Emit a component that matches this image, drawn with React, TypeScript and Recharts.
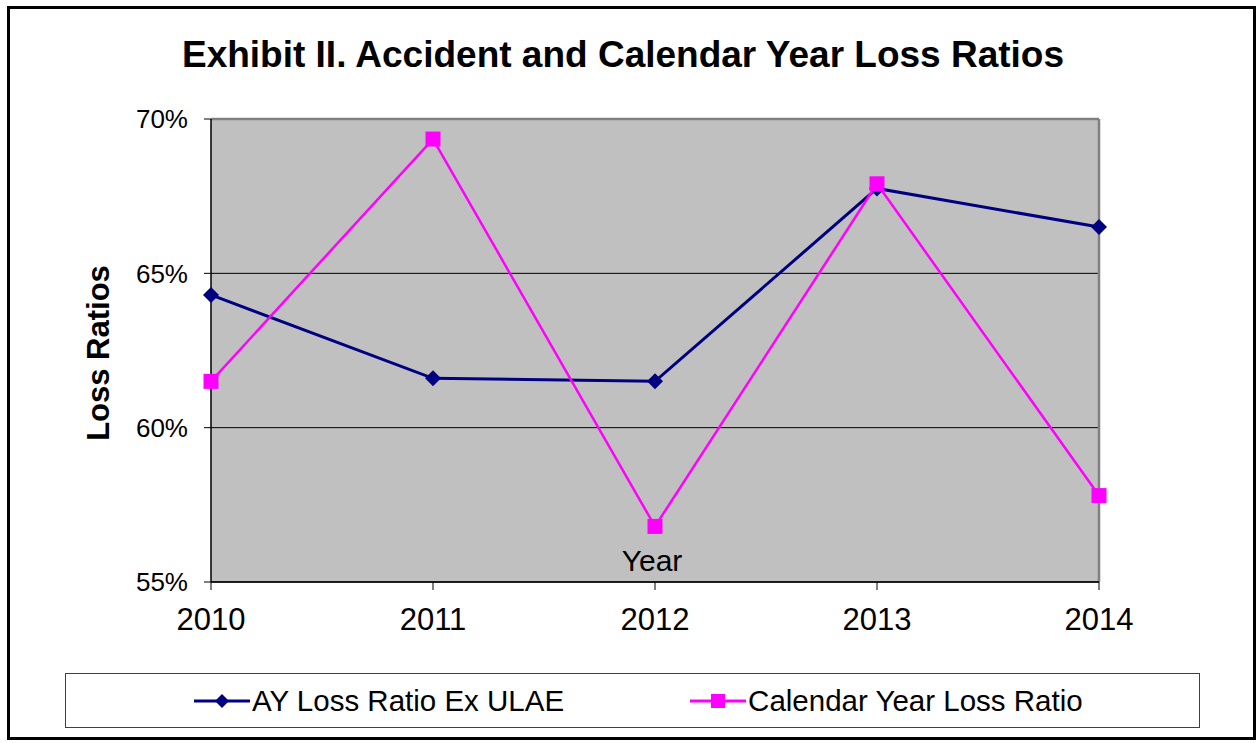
import React from 'react';
import { LineChart, Line, XAxis, YAxis, CartesianGrid, Legend, ReferenceLine, Label } from 'recharts';

const years = ['2010', '2011', '2012', '2013', '2014'];
const ayLossRatio = [64.3, 61.6, 61.5, 67.75, 66.5];
const cyLossRatio = [61.5, 69.35, 56.8, 67.9, 57.8];
const yTicks = [55, 60, 65, 70];

const FONT = '"Liberation Sans", Arial, sans-serif';
const NAVY = '#000080';
const MAGENTA = '#FF00FF';

const data = years.map((y, i) => ({ year: y, ay: ayLossRatio[i], cy: cyLossRatio[i] }));

const Diamond = (props: any) => {
    const { cx, cy } = props;
    if (cx == null || cy == null) return null;
    const r = 8;
    return <path d={`M${cx},${cy - r}L${cx + r},${cy}L${cx},${cy + r}L${cx - r},${cy}Z`} fill={NAVY} />;
};

const Square = (props: any) => {
    const { cx, cy } = props;
    if (cx == null || cy == null) return null;
    const s = 7.5;
    return <rect x={cx - s} y={cy - s} width={s * 2} height={s * 2} fill={MAGENTA} />;
};

const LegendBox = () => (
    <div style={{
        width: 1133, height: 53, border: '1px solid #404040', background: '#fff',
        display: 'flex', alignItems: 'center', fontFamily: FONT, fontSize: 29.5, color: '#000',
    }}>
        <div style={{ display: 'flex', alignItems: 'center', marginLeft: 126 }}>
            <svg width={60} height={20}>
                <line x1={2} y1={10} x2={58} y2={10} stroke={NAVY} strokeWidth={3} />
                <path d="M30,3L37,10L30,17L23,10Z" fill={NAVY} />
            </svg>
            <span>AY Loss Ratio Ex ULAE</span>
        </div>
        <div style={{ display: 'flex', alignItems: 'center', marginLeft: 124 }}>
            <svg width={60} height={20}>
                <line x1={2} y1={10} x2={58} y2={10} stroke={MAGENTA} strokeWidth={3} />
                <rect x={23} y={3} width={14} height={14} fill={MAGENTA} />
            </svg>
            <span>Calendar Year Loss Ratio</span>
        </div>
    </div>
);

const App = () => {
    return (
        <div style={{ position: 'relative', width: 1258, height: 743, background: '#fff', fontFamily: FONT }}>
            <style>{'body{margin:0}'}</style>
            <div style={{
                position: 'absolute', left: 7, top: 6, width: 1243, height: 728,
                border: '3px solid #000', boxSizing: 'content-box',
            }} />
            <div style={{
                position: 'absolute', left: 0, top: 34, width: 1246, textAlign: 'center',
                fontSize: 37, fontWeight: 'bold', color: '#000',
            }}>
                Exhibit II. Accident and Calendar Year Loss Ratios
            </div>
            <div style={{ position: 'absolute', left: 0, top: 0 }}>
                <LineChart width={1258} height={743} data={data}
                    margin={{ top: 119, right: 159, left: 0, bottom: 111 }}>
                    <CartesianGrid fill="#C0C0C0" stroke="#000" strokeWidth={1} vertical={false} fillOpacity={1} />
                    <XAxis dataKey="year" height={50} tickSize={8} tickMargin={18}
                        axisLine={{ stroke: '#000', strokeWidth: 1.5 }} tickLine={{ stroke: '#000' }}
                        tick={{ fill: '#000', fontSize: 31, fontFamily: FONT }}>
                        <Label content={(p: any) => {
                            const vb = p.viewBox || {};
                            return (
                                <text x={vb.x + vb.width / 2 - 3} y={vb.y - 11} textAnchor="middle"
                                    fontSize={30} fontFamily={FONT} fill="#000">Year</text>
                            );
                        }} />
                    </XAxis>
                    <YAxis width={211} domain={[55, 70]} ticks={yTicks} tickSize={7} tickMargin={16}
                        tickFormatter={(v: number) => `${v}%`}
                        axisLine={{ stroke: '#000', strokeWidth: 1.5 }} tickLine={{ stroke: '#000' }}
                        tick={{ fill: '#000', fontSize: 26, fontFamily: FONT }}>
                        <Label content={() => (
                            <text x={98} y={353} transform="rotate(-90, 98, 353)" textAnchor="middle"
                                dominantBaseline="central" fontSize={31} fontWeight="bold"
                                fontFamily={FONT} fill="#000">Loss Ratios</text>
                        )} />
                    </YAxis>
                    <ReferenceLine y={70} stroke="#808080" strokeWidth={2.5} />
                    <ReferenceLine x="2014" stroke="#808080" strokeWidth={2.5} />
                    <Line dataKey="ay" stroke={NAVY} strokeWidth={3} dot={<Diamond />}
                        activeDot={false} isAnimationActive={false} />
                    <Line dataKey="cy" stroke={MAGENTA} strokeWidth={2.5} dot={<Square />}
                        activeDot={false} isAnimationActive={false} />
                    <Legend verticalAlign="middle" layout="horizontal" content={<LegendBox />}
                        wrapperStyle={{ position: 'absolute', left: 65, top: 673, width: 1135, height: 55 }} />
                </LineChart>
            </div>
        </div>
    );
};

export default App;
